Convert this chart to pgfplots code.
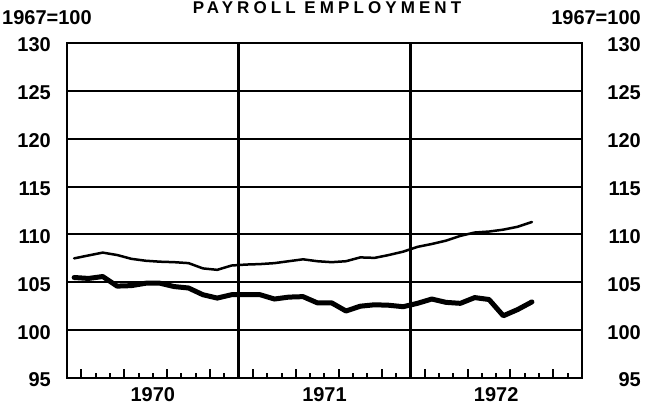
\documentclass[border=0pt]{standalone}
\usepackage{fontspec}
\setmainfont{Liberation Sans}
\newfontfamily\titlefont[LetterSpace=24]{Liberation Sans}
\usepackage{pgfplots}
\usepackage{pgfplotstable}
\pgfplotsset{compat=1.18}

\pgfplotstableread{
m upper lower
0.5 107.5 105.5
1.5 107.8 105.4
2.5 108.1 105.6
3.5 107.85 104.6
4.5 107.45 104.65
5.5 107.25 104.9
6.5 107.15 104.9
7.5 107.1 104.55
8.5 107.0 104.4
9.5 106.45 103.7
10.5 106.3 103.35
11.5 106.75 103.7
12.5 106.85 103.7
13.5 106.9 103.7
14.5 107.0 103.25
15.5 107.2 103.45
16.5 107.4 103.5
17.5 107.2 102.85
18.5 107.1 102.85
19.5 107.2 102.0
20.5 107.6 102.5
21.5 107.55 102.65
22.5 107.85 102.6
23.5 108.2 102.45
24.5 108.7 102.8
25.5 109.0 103.25
26.5 109.35 102.9
27.5 109.85 102.8
28.5 110.2 103.4
29.5 110.3 103.2
30.5 110.5 101.5
31.5 110.8 102.15
32.5 111.3 102.95
}\datatable

\newcommand\lbl{\fontsize{20}{24}\selectfont\bfseries}

\begin{document}
\begin{tikzpicture}
\begin{axis}[
  at={(0,0)}, anchor=south west,
  scale only axis, width=515pt, height=335pt,
  xmin=0, xmax=36, ymin=95, ymax=130,
  axis line style={line width=2.5pt},
  tick pos=left,
  xtick={1,4,...,34}, xticklabels={},
  minor xtick={2,3,5,6,8,9,11,12,14,15,17,18,20,21,23,24,26,27,29,30,32,33,35},
  major tick length=9pt, minor tick length=5pt,
  tick style={black, line width=2pt},
  extra x ticks={6,18,30}, extra x tick labels={1970,1971,1972},
  extra x tick style={major tick length=0pt, xticklabel style={anchor=north, inner sep=0pt, yshift=-9pt}},
  ytick={95,100,...,130},
  yticklabels={95,100,105,110,115,120,125,130},
  ymajorgrids, grid style={black, line width=2pt},
  ytick style={draw=none},
  yticklabel style={anchor=east, inner sep=0pt, xshift=-16pt, yshift=-2pt},
  ticklabel style={font=\lbl},
  /pgf/number format/assume math mode=true,
]
\addplot[black, mark=none, line width=2.5pt, line join=round, line cap=round] table[x=m, y=upper] {\datatable};
\addplot[black, mark=none, line width=5pt, line join=round, line cap=round] table[x=m, y=lower] {\datatable};
\draw[line width=2.5pt] (axis cs:12,95) -- (axis cs:12,130);
\draw[line width=2.5pt] (axis cs:24,95) -- (axis cs:24,130);
\end{axis}
\begin{axis}[
  at={(0,0)}, anchor=south west,
  scale only axis, width=515pt, height=335pt,
  xmin=0, xmax=36, ymin=95, ymax=130,
  axis line style={draw=none},
  xtick=\empty,
  ytick={95,100,...,130},
  yticklabels={95,100,105,110,115,120,125,130},
  yticklabel pos=right,
  ytick style={draw=none},
  yticklabel style={anchor=east, inner sep=0pt, xshift=59pt, yshift=-2pt, font=\lbl},
  /pgf/number format/assume math mode=true,
]
\end{axis}
\node[anchor=base, inner sep=0pt, font=\fontsize{17}{20}\selectfont\titlefont\bfseries] at (260pt,364pt) {PAYROLL EMPLOYMENT};
\node[anchor=base west, inner sep=0pt, font=\lbl] at (-65pt,353pt) {1967=100};
\node[anchor=base east, inner sep=0pt, font=\lbl] at (574pt,353pt) {1967=100};
\pgfresetboundingbox
\useasboundingbox (-67pt,-33pt) rectangle (579pt,378pt);
\end{tikzpicture}
\end{document}
